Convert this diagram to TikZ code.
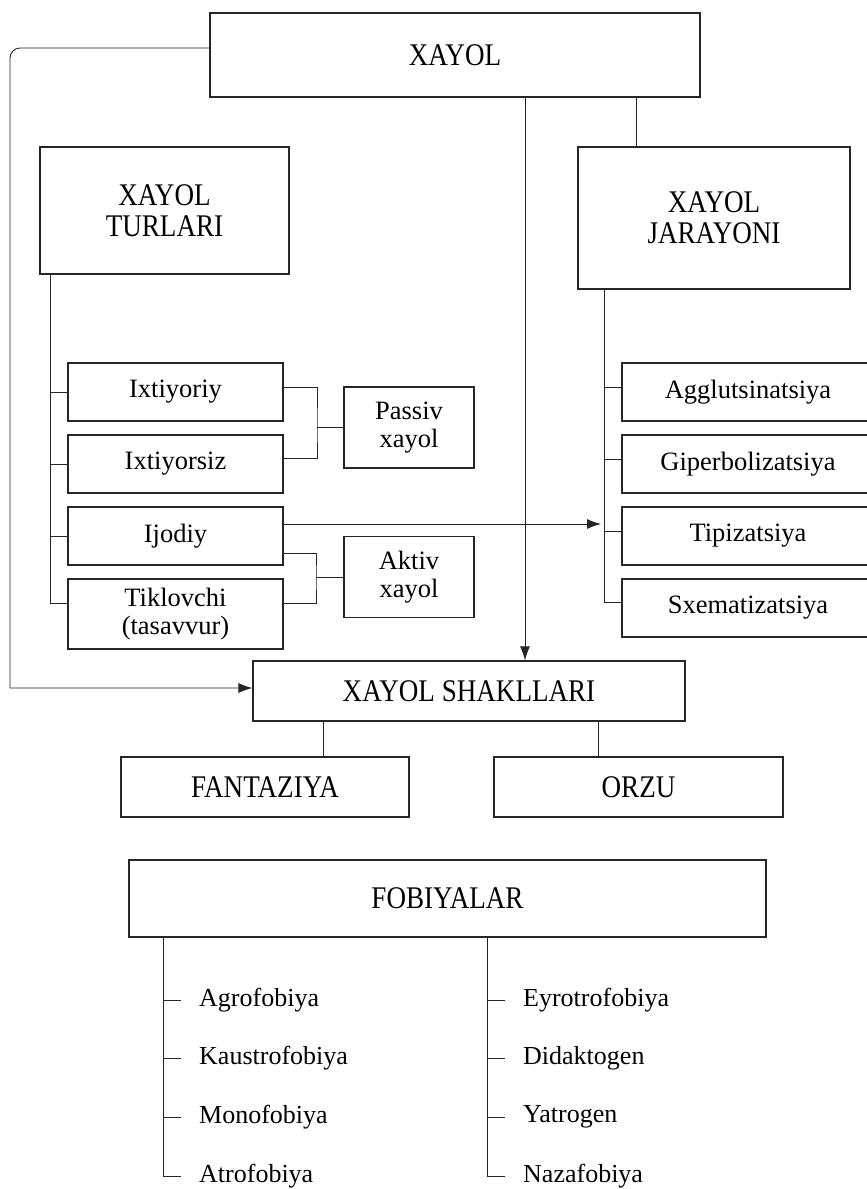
\documentclass[tikz,border=0pt]{standalone}
\usepackage{fontspec}
\setmainfont{Liberation Serif}
\newfontfamily\capfont{Liberation Serif}[FakeStretch=0.86]
\usepackage{tikz}
\usetikzlibrary{
  arrows.meta,
  positioning,
  calc,
}
\tikzset{
  mainbox/.style={
    rectangle, draw=black!85, line width=1.2pt, inner sep=0pt,
    align=center, font=\capfont\fontsize{31.5}{31}\selectfont,
  },
  smallbox/.style={
    mainbox, font=\fontsize{26.5}{28.5}\selectfont,
  },
  phobia/.style={
    anchor=west, inner xsep=18pt, inner ysep=0pt,
    font=\fontsize{26}{28}\selectfont,
  },
  link/.style={
    draw=black!85, line width=0.9pt,
  },
  arrowMed/.style={
    link, -{Latex[length=14pt,width=10pt]},
  },
}

\begin{document}
\begin{tikzpicture}[x=1pt, y=-1pt]
\useasboundingbox (0,0) rectangle (867,1189);

% Top level
\node[mainbox, minimum width=490pt, minimum height=84pt] (xayol) at (455,55) {XAYOL};
\node[mainbox, minimum width=249pt, minimum height=127pt] (turlari) at (164.5,210.5)
   {XAYOL\\TURLARI};
\node[mainbox, minimum width=272pt, minimum height=142pt] (jarayoni) at (714,218)
   {XAYOL\\JARAYONI};

% Xayol turlari
\foreach \name/\y/\txt in {ixt/392/Ixtiyoriy, ixs/464/Ixtiyorsiz, ijo/536/Ijodiy}
{
  \node[smallbox, minimum width=215pt, minimum height=58pt] (\name) at (175.5,\y) {\txt};
}
\node[smallbox, minimum width=215pt, minimum height=70pt] (tik) at (175.5,614)
   {Tiklovchi\\(tasavvur)};
\node[smallbox, minimum width=130pt, minimum height=81pt] (passiv) at (409,427.5)
   {Passiv\\xayol};
\node[smallbox, minimum width=130pt, minimum height=81pt] (aktiv) at (409,577)
   {Aktiv\\xayol};

% Xayol jarayoni
\foreach \name/\y/\txt in {agg/392/Agglutsinatsiya, gip/464/Giperbolizatsiya,
                           tip/536/Tipizatsiya, sxe/608/Sxematizatsiya}
{
  \node[smallbox, minimum width=252pt, minimum height=58pt] (\name) at (748,\y) {\txt};
}

% Xayol shakllari
\node[mainbox, minimum width=432pt, minimum height=60pt] (shakl) at (469,691)
   {XAYOL SHAKLLARI};
\node[mainbox, minimum width=288pt, minimum height=60pt] (fant) at (265,787) {FANTAZIYA};
\node[mainbox, minimum width=289pt, minimum height=60pt] (orzu) at (638.5,787) {ORZU};

% Fobiyalar
\node[mainbox, minimum width=637pt, minimum height=77pt] (fobi) at (447.5,898.5)
   {FOBIYALAR};
\foreach \name/\y/\txt in {agro/1000/Agrofobiya, kaus/1058/Kaustrofobiya,
                           mono/1117/Monofobiya, atro/1176/Atrofobiya}
{
  \node[phobia] (\name) at (181,\y) {\txt};
}
\foreach \name/\y/\txt in {eyro/1000/Eyrotrofobiya, dida/1058/Didaktogen,
                           yatr/1117/Yatrogen, naza/1176/Nazafobiya}
{
  \node[phobia] (\name) at (505,\y) {\txt};
}

% Connectors from the top box
\coordinate (loopTop) at (10,48);
\coordinate (loopBot) at (10,688);
\draw[arrowMed] (xayol.west |- loopTop) [rounded corners=10pt] -- (loopTop)
   [sharp corners] -- (loopBot) -- (shakl.west |- loopBot);
\coordinate (midX) at (525,0);
\draw[arrowMed] (xayol.south -| midX) -- (shakl.north -| midX);
\coordinate (jarX) at (636,0);
\draw[link] (xayol.south -| jarX) -- (jarayoni.north -| jarX);

% Left spine
\coordinate (lSpine) at (50,0);
\draw[link] (turlari.south -| lSpine) |- ([yshift=11pt]tik.west);
\foreach \n in {ixt,ixs,ijo}
  \draw[link] (lSpine |- \n.west) -- (\n.west);

% Brackets to passiv / aktiv
\coordinate (pBr) at (317,0);
\draw[link] ([yshift=5pt]ixt.east) -| (pBr |- passiv.west) |- ([yshift=6pt]ixs.east);
\draw[link] (pBr |- passiv.west) -- (passiv.west);
\coordinate (aBr) at (316,0);
\draw[link] ([yshift=-17pt]ijo.east) -| (aBr |- aktiv.west) |- ([yshift=11pt]tik.east);
\draw[link] (aBr |- aktiv.west) -- (aktiv.west);

% Right spine
\coordinate (rSpine) at (604,0);
\draw[link] (jarayoni.south -| rSpine) |- ([yshift=6pt]sxe.west);
\foreach \n in {agg,gip,tip}
  \draw[link] ([yshift=5pt]rSpine |- \n.west) -- ([yshift=5pt]\n.west);

% Ijodiy -> jarayoni
\coordinate (ijoTip) at (601,524);
\draw[arrowMed] ([yshift=12pt]ijo.east) -- (ijoTip);

% Shakllari
\coordinate (fX) at (323,0);
\draw[link] (shakl.south -| fX) -- (fant.north -| fX);
\coordinate (oX) at (598,0);
\draw[link] (shakl.south -| oX) -- (orzu.north -| oX);

% Fobiya spines
\coordinate (lfX) at (163,0);
\draw[link] (fobi.south -| lfX) |- (atro.west);
\foreach \n in {agro,kaus,mono}
  \draw[link] (lfX |- \n.west) -- (\n.west);
\coordinate (rfX) at (487,0);
\draw[link] (fobi.south -| rfX) |- (naza.west);
\foreach \n in {eyro,dida,yatr}
  \draw[link] (rfX |- \n.west) -- (\n.west);

\end{tikzpicture}
\end{document}
